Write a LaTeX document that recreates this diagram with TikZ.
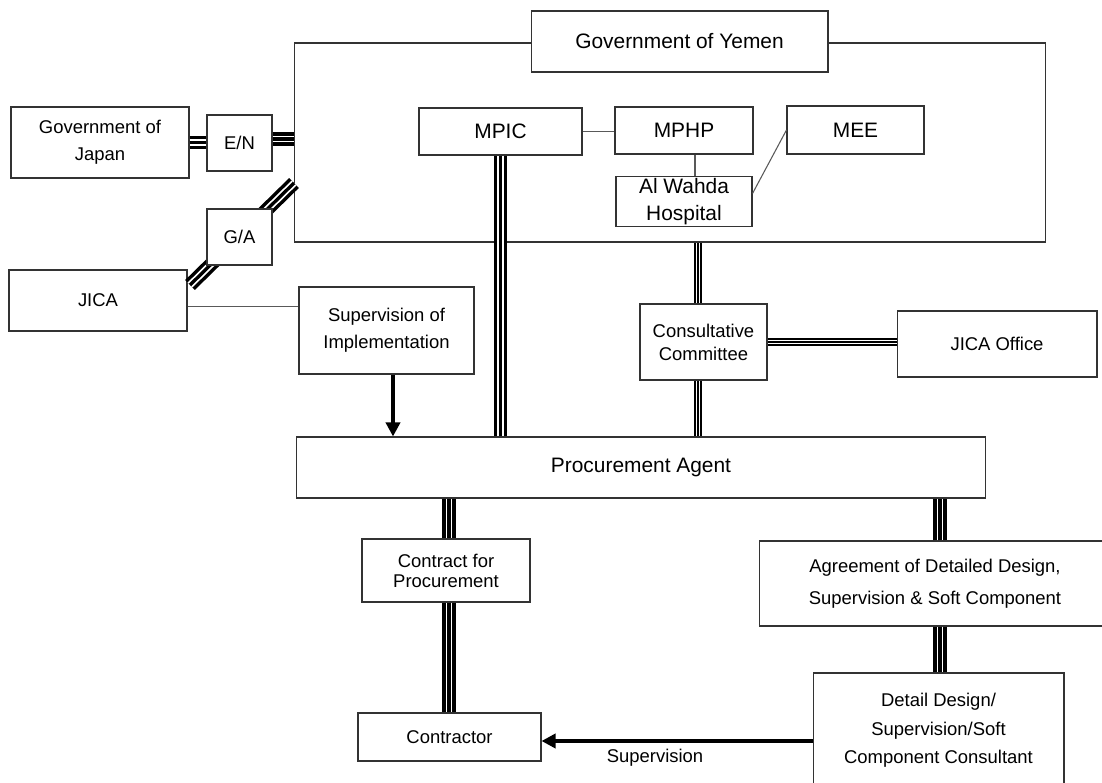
\documentclass[tikz,border=0pt]{standalone}
\usepackage{fontspec}
\setmainfont{Liberation Sans}
\usetikzlibrary{arrows.meta}

\tikzset{
  box/.style={draw=black!80, line width=0.6pt, fill=white, align=center, inner sep=1pt,
    font=\fontsize{10.5}{15.3}\selectfont},
  bigtext/.style={font=\fontsize{11.9}{15.3}\selectfont},
  thinlink/.style={draw=black!65, line width=0.6pt},
  tripwide/.style={draw=black, line width=7.9pt,
    postaction={draw=white, line width=3.9pt},
    postaction={draw=black, line width=1.9pt}},
  tripnarrow/.style={draw=black, line width=4pt,
    postaction={draw=white, line width=2.3pt},
    postaction={draw=black, line width=1.1pt}},
  arrowlink/.style={draw=black, line width=2pt, -{Triangle[length=8pt,width=8pt]}}
}

\begin{document}
\begin{tikzpicture}[x=0.02cm, y=-0.02cm]
\useasboundingbox (0,0) rectangle (1102,783);

% Yemen side
\node[box, minimum width=15.04cm, minimum height=3.98cm] (govy) at (670,142.5) {};
\node[box, bigtext, minimum width=5.94cm, minimum height=1.22cm] (yemen) at (679.5,41.5) {Government of Yemen};
\node[box, bigtext, minimum width=3.26cm, minimum height=0.94cm] (mpic) at (500.5,131.5) {MPIC};
\node[box, bigtext, minimum width=2.76cm, minimum height=0.94cm] (mphp) at (684,130.5) {MPHP};
\node[box, bigtext, minimum width=2.74cm, minimum height=0.96cm] (mee) at (855.5,130) {MEE};
\node[box, bigtext, minimum width=2.72cm, minimum height=0.98cm] (wahda) at (684,201.5) {Al Wahda\\Hospital};

% Japan side
\node[box, minimum width=3.56cm, minimum height=1.42cm] (japan) at (100,142.5) {Government of\\Japan};
\node[box, minimum width=1.30cm, minimum height=1.12cm] (en) at (239.5,143) {E/N};
\node[box, minimum width=3.56cm, minimum height=1.22cm] (jica) at (98,300.5) {JICA};
\node[box, minimum width=3.50cm, minimum height=1.74cm] (superv) at (386.5,330.5) {Supervision of\\Implementation};
\node[box, font=\fontsize{10.5}{13}\selectfont, minimum width=2.54cm, minimum height=1.52cm] (consult) at (703.5,342) {Consultative\\Committee};
\node[box, minimum width=4.00cm, minimum height=1.32cm] (jicaoff) at (997,344) {JICA Office};

% procurement
\node[box, bigtext, minimum width=13.8cm, minimum height=1.22cm] (agent) at (641,467.5) {Procurement Agent};
\node[box, font=\fontsize{10.5}{11.3}\selectfont, minimum width=3.36cm, minimum height=1.26cm] (contract) at (446,570.5) {Contract for\\Procurement};
\node[box, minimum width=3.66cm, minimum height=0.96cm] (contractor) at (449.5,737) {Contractor};
\node[box, font=\fontsize{10.5}{18.1}\selectfont, minimum width=7.04cm, minimum height=1.70cm] (agree) at (935,583.5) {Agreement of Detailed Design,\\Supervision \& Soft Component};
\node[box, font=\fontsize{10.5}{16.2}\selectfont, minimum width=5.02cm, minimum height=2.30cm] (detail) at (938.5,730.5) {Detail Design/\\Supervision/Soft\\Component Consultant};

% connectors
\draw[tripwide] (japan.east) -- (japan.east -| en.west);
\draw[tripwide] ([yshift=0.08cm]en.east) -- ([yshift=0.08cm]en.east -| govy.west);
\coordinate (gaA) at (190,285);
\coordinate (gaB) at (294,183);
\draw[tripwide] (gaA) -- (gaB);
\node[box, minimum width=1.30cm, minimum height=1.12cm] (ga) at (239.5,237) {G/A};

\draw[thinlink] (mpic.east) -- (mpic.east -| mphp.west);
\draw[thinlink] ([xshift=0.22cm]mphp.south) -- ([xshift=0.22cm]mphp.south |- wahda.north);
\draw[thinlink] ([yshift=0.16cm]wahda.east) -- (mee.west);
\draw[thinlink] ([yshift=-0.12cm]jica.east) -- ([yshift=-0.12cm]jica.east -| superv.west);

\draw[tripwide] (mpic.south) -- (mpic.south |- agent.north);
\draw[tripnarrow] ([xshift=-0.11cm]consult.north) -- ([xshift=-0.11cm]consult.north |- govy.south);
\draw[tripnarrow] ([xshift=-0.11cm]consult.south) -- ([xshift=-0.11cm]consult.south |- agent.north);
\draw[tripnarrow] (consult.east) -- (consult.east -| jicaoff.west);
\draw[arrowlink] ([xshift=0.13cm]superv.south) -- ([xshift=0.13cm]superv.south |- agent.north);

\draw[tripwide] ([xshift=0.06cm]contract.north) -- ([xshift=0.06cm]contract.north |- agent.south);
\draw[tripwide] ([xshift=0.06cm]contract.south) -- ([xshift=0.06cm]contract.south |- contractor.north);
\draw[tripwide] ([xshift=0.1cm]agree.north) -- ([xshift=0.1cm]agree.north |- agent.south);
\draw[tripwide] ([xshift=0.1cm]agree.south) -- ([xshift=0.1cm]agree.south |- detail.north);
\draw[arrowlink] ([yshift=-0.21cm]detail.west) -- ([yshift=-0.21cm]detail.west -| contractor.east);
\node[font=\fontsize{10.5}{12}\selectfont] (suplabel) at (655,758) {Supervision};
\end{tikzpicture}
\end{document}
